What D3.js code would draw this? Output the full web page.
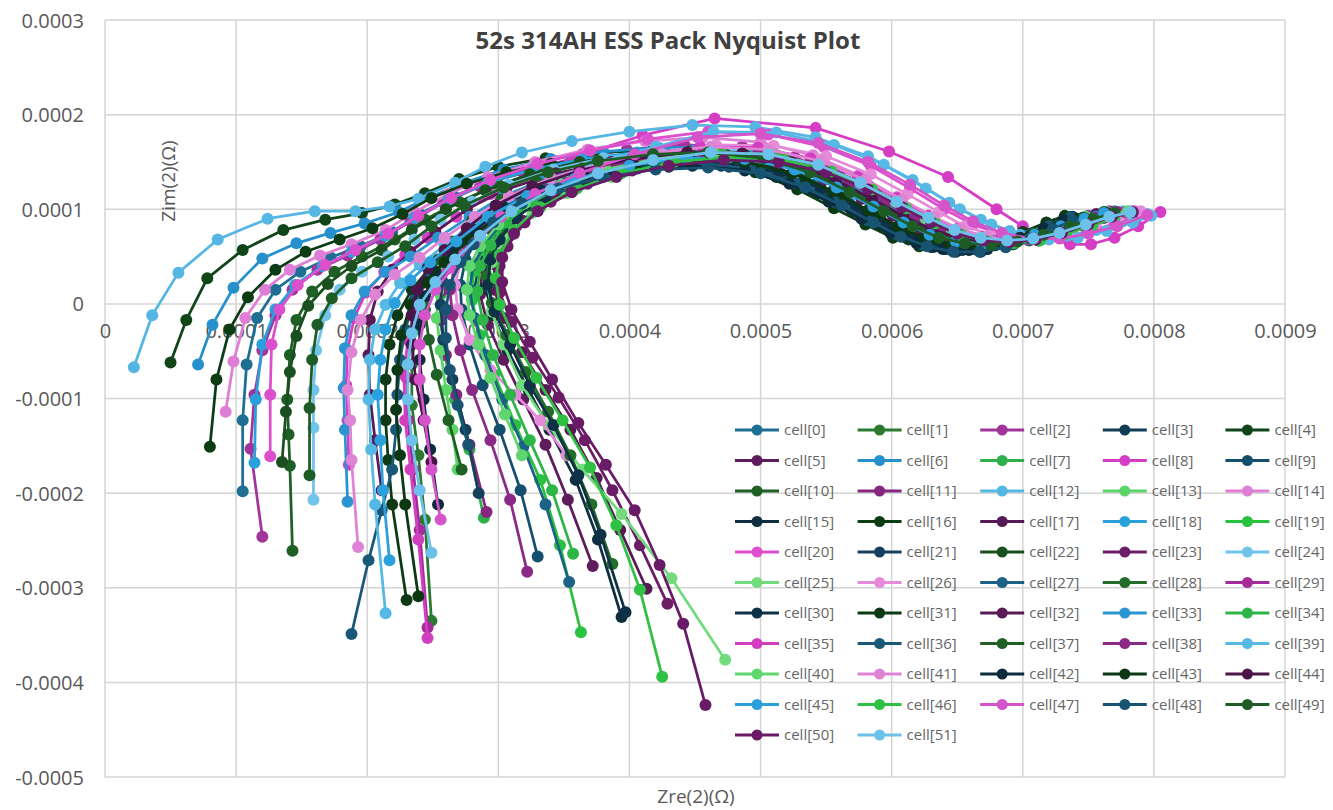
<!DOCTYPE html>
<html>
<head>
<meta charset="utf-8">
<script src="https://cdn.jsdelivr.net/npm/d3@7"></script>
<style>
  body { margin: 0; background: #fff; }
  text { font-family: "Open Sans", "Liberation Sans", sans-serif; }
</style>
</head>
<body>
<script>
// Nyquist points per cell: [Zre, Zim] in micro-ohm (1e-6 ohm), high freq first
var cell0 = [[105,-198],[105,-123],[108,-64],[116,-15],[130,15],[149,34],[172,49],[195,61],[219,76],[240,95],[266,114],[296,130],[330,142],[368,150],[410,154],[452,152],[492,143],[526,126],[555,106],[580,88],[602,73],[622,63],[642,58],[662,59],[682,65],[702,74],[720,84],[736,92]];
var cell1 = [[249,-335],[244,-228],[239,-160],[234,-107],[234,-64],[237,-27],[244,2],[256,27],[269,49],[286,74],[308,99],[336,121],[372,138],[412,151],[454,158],[496,155],[532,142],[562,122],[588,102],[610,85],[630,72],[650,65],[670,62],[690,65],[710,72],[730,81],[748,89],[764,95]];
var cell2 = [[120,-246],[111,-153],[114,-96],[120,-49],[130,-12],[143,15],[162,36],[185,51],[210,68],[233,87],[258,107],[286,124],[318,140],[356,153],[398,163],[442,168],[486,166],[526,155],[560,136],[588,115],[612,96],[632,81],[652,72],[672,68],[692,70],[712,76],[732,85],[750,93],[766,98]];
var cell3 = [[281,12],[286,44],[295,78],[308,100],[330,118],[360,133],[396,143],[436,148],[476,145],[512,134],[543,117],[570,98],[593,81],[613,68],[632,60],[651,57],[670,59],[689,65],[707,74],[724,84],[738,92]];
var cell4 = [[50,-62],[62,-17],[78,27],[105,57],[136,78],[168,89],[196,96],[221,105],[244,117],[270,132],[300,145],[336,154],[376,160],[418,162],[460,160],[500,150],[534,133],[563,112],[588,93],[610,78],[630,67],[650,61],[670,61],[690,66],[710,74],[730,84],[748,92]];
var cell5 = [[372,-277],[353,-207],[336,-149],[319,-101],[304,-59],[292,-22],[286,10],[288,38],[295,61],[308,86],[328,108],[356,128],[390,143],[430,154],[472,159],[514,156],[550,144],[582,125],[608,105],[630,88],[650,75],[670,67],[690,65],[710,68],[730,75],[750,84],[768,92],[784,97]];
var cell6 = [[71,-64],[82,-22],[98,17],[120,48],[146,64],[172,75],[198,85],[224,97],[248,113],[274,128],[304,142],[340,153],[380,161],[422,165],[464,165],[505,157],[540,141],[570,120],[595,100],[616,84],[636,72],[656,66],[676,65],[696,69],[716,76],[736,85],[754,93],[770,98]];
var cell7 = [[289,-226],[278,-154],[267,-101],[259,-54],[256,-17],[256,10],[260,36],[271,59],[288,84],[310,106],[338,126],[372,141],[412,152],[454,157],[496,154],[532,142],[563,123],[589,103],[611,86],[631,73],[651,66],[671,64],[691,67],[711,74],[731,83],[749,91],[764,97]];
var cell8 = [[186,-170],[185,-123],[184,-86],[185,-49],[190,-15],[199,12],[213,34],[229,52],[246,70],[268,92],[294,116],[326,138],[364,158],[410,178],[465,196],[542,186],[598,161],[643,134],[680,100],[700,82],[718,70],[736,63],[752,63],[770,70],[788,82],[805,97]];
var cell9 = [[330,-267],[317,-197],[301,-133],[288,-86],[278,-43],[272,-6],[271,20],[275,47],[284,68],[298,90],[318,110],[346,126],[380,138],[420,146],[460,147],[500,140],[534,124],[562,105],[586,87],[607,72],[627,62],[647,57],[667,58],[687,64],[706,73],[723,83],[738,91]];
var cell10 = [[143,-261],[141,-171],[140,-138],[139,-101],[141,-54],[146,-17],[158,13],[175,34],[196,50],[221,68],[244,89],[270,108],[300,126],[334,141],[372,152],[414,159],[456,161],[498,155],[534,140],[565,120],[591,100],[613,83],[633,71],[653,64],[673,62],[693,66],[713,73],[733,82],[751,90],[766,96]];
var cell11 = [[291,-220],[278,-149],[268,-96],[260,-54],[256,-17],[256,13],[261,38],[271,59],[286,82],[308,104],[336,124],[370,140],[410,152],[452,158],[494,156],[532,145],[564,126],[591,106],[614,89],[634,76],[654,68],[674,65],[694,68],[714,74],[734,83],[752,91],[768,97]];
var cell12 = [[22,-67],[36,-12],[56,33],[86,68],[124,90],[160,98],[191,98],[217,103],[239,111],[267,128],[290,145],[318,160],[356,172],[400,182],[448,189],[496,187],[542,176],[582,156],[616,131],[644,107],[668,89],[690,77],[712,71],[734,72],[756,78],[776,87],[795,95]];
var cell13 = [[269,-175],[265,-133],[260,-91],[256,-49],[253,-15],[254,13],[259,38],[268,59],[282,82],[304,106],[332,126],[366,142],[406,154],[448,160],[490,158],[528,147],[560,128],[587,108],[610,90],[630,77],[650,69],[670,66],[690,68],[710,75],[730,84],[748,92],[764,97]];
var cell14 = [[92,-114],[98,-61],[107,-15],[122,15],[141,36],[164,51],[188,63],[214,78],[236,97],[262,116],[292,134],[328,150],[368,163],[412,172],[456,176],[500,171],[540,157],[575,136],[604,113],[628,93],[650,79],[670,71],[690,68],[710,70],[730,76],[750,84],[768,92],[784,97]];
var cell15 = [[394,-331],[376,-249],[359,-186],[339,-133],[323,-91],[307,-49],[296,-12],[290,17],[292,44],[300,66],[312,90],[332,110],[358,126],[392,138],[430,145],[470,146],[508,138],[541,122],[568,102],[591,84],[611,70],[630,60],[649,55],[668,55],[687,60],[705,69],[722,79],[736,88]];
var cell16 = [[80,-151],[85,-80],[95,-27],[109,7],[130,36],[153,55],[179,68],[204,80],[227,95],[249,112],[276,127],[306,139],[340,148],[378,153],[418,154],[458,150],[496,139],[528,121],[556,101],[580,84],[601,70],[621,61],[641,58],[661,60],[681,67],[700,76],[718,86],[732,93]];
var cell17 = [[413,-301],[393,-239],[375,-184],[355,-133],[336,-91],[318,-51],[304,-15],[297,15],[297,42],[305,63],[318,88],[338,110],[366,128],[400,142],[440,152],[482,156],[522,151],[556,138],[586,119],[611,99],[632,83],[652,71],[672,65],[692,64],[712,67],[732,74],[752,83],[770,91],[786,97]];
var cell18 = [[114,-168],[115,-101],[120,-43],[130,-6],[145,20],[166,40],[188,55],[214,72],[236,91],[262,110],[292,128],[326,142],[364,153],[406,160],[448,162],[490,157],[526,143],[558,123],[585,102],[608,85],[628,72],[648,65],[668,63],[688,67],[708,74],[728,83],[746,91],[762,97]];
var cell19 = [[363,-347],[347,-255],[332,-186],[313,-128],[297,-75],[286,-33],[280,4],[281,34],[288,57],[302,82],[322,106],[350,126],[384,142],[424,154],[466,160],[508,158],[546,146],[578,127],[605,106],[628,89],[648,76],[668,69],[688,67],[708,70],[728,77],[748,86],[766,94]];
var cell20 = [[126,-161],[126,-96],[127,-43],[133,-6],[147,20],[168,41],[191,57],[216,74],[239,93],[264,112],[294,131],[330,148],[370,162],[414,174],[460,182],[506,179],[548,166],[584,146],[614,122],[640,100],[662,84],[684,73],[706,68],[728,70],[750,76],[770,85],[788,93]];
var cell21 = [[285,-200],[275,-133],[265,-80],[258,-38],[256,-1],[257,25],[263,49],[276,72],[296,98],[324,118],[358,134],[398,145],[440,150],[482,147],[518,135],[549,116],[575,96],[598,80],[618,68],[638,61],[658,59],[678,62],[698,70],[716,79],[732,88]];
var cell22 = [[135,-167],[138,-114],[141,-72],[146,-34],[155,-2],[170,21],[188,40],[211,57],[234,78],[260,100],[290,120],[324,137],[362,150],[404,158],[446,161],[488,157],[526,144],[558,124],[585,104],[608,87],[628,74],[648,66],[668,63],[688,66],[708,72],[728,81],[746,89],[762,95]];
var cell23 = [[429,-317],[408,-255],[387,-197],[366,-144],[346,-99],[326,-57],[310,-19],[301,12],[301,40],[307,61],[320,86],[340,108],[368,127],[402,141],[442,151],[484,155],[524,150],[558,137],[588,118],[612,99],[634,83],[654,72],[674,66],[694,65],[714,68],[734,75],[754,84],[772,92],[788,97]];
var cell24 = [[159,-207],[159,-131],[159,-91],[161,-49],[168,-12],[179,15],[196,34],[216,50],[236,68],[256,89],[280,108],[308,126],[342,142],[380,154],[422,162],[464,165],[506,160],[542,146],[574,126],[600,106],[622,89],[642,76],[662,68],[682,65],[702,68],[722,75],[742,84],[760,92],[776,98]];
var cell25 = [[473,-376],[432,-290],[394,-222],[364,-175],[338,-128],[318,-86],[304,-43],[295,-8],[292,20],[295,44],[306,70],[326,96],[352,117],[386,134],[426,147],[468,154],[510,153],[548,142],[580,124],[606,104],[628,87],[648,75],[668,68],[688,66],[708,69],[728,76],[748,85],[766,93],[782,98]];
var cell26 = [[352,-160],[332,-123],[313,-96],[294,-70],[278,-38],[269,-6],[267,20],[271,44],[280,63],[294,86],[316,108],[344,128],[380,146],[422,160],[466,168],[510,167],[550,156],[584,137],[612,116],[636,97],[656,82],[676,73],[696,69],[716,70],[736,76],[756,85],[774,93],[790,98]];
var cell27 = [[354,-294],[336,-212],[319,-151],[303,-101],[290,-54],[282,-15],[278,15],[281,41],[290,64],[304,88],[324,110],[352,128],[386,141],[426,149],[466,150],[506,142],[540,126],[568,106],[592,88],[613,73],[633,63],[653,58],[673,58],[693,63],[712,72],[730,82],[746,91]];
var cell28 = [[387,-275],[371,-212],[355,-160],[338,-114],[321,-72],[306,-33],[295,1],[291,29],[294,55],[304,80],[324,104],[352,124],[386,140],[426,151],[468,156],[510,153],[546,141],[577,122],[603,102],[625,85],[645,73],[665,66],[685,64],[705,67],[725,74],[745,83],[762,91]];
var cell29 = [[246,-342],[240,-239],[235,-175],[231,-123],[230,-78],[233,-41],[239,-8],[250,18],[265,42],[284,68],[306,94],[334,117],[370,136],[412,151],[456,160],[500,159],[538,148],[572,129],[600,108],[624,90],[644,77],[664,69],[684,66],[704,68],[724,74],[744,83],[762,91],[778,97]];
var cell30 = [[397,-326],[378,-244],[361,-181],[342,-128],[324,-86],[309,-43],[297,-8],[292,20],[294,47],[301,68],[314,92],[336,113],[364,129],[398,141],[436,148],[476,148],[514,139],[546,122],[573,102],[596,84],[616,70],[635,61],[654,57],[673,58],[692,63],[710,72],[727,82],[741,90]];
var cell31 = [[230,-313],[219,-212],[216,-165],[214,-123],[214,-80],[217,-43],[223,-12],[234,15],[248,38],[265,59],[286,84],[310,108],[342,128],[378,142],[418,151],[460,154],[500,148],[534,133],[563,113],[588,94],[610,78],[630,67],[650,61],[670,60],[690,64],[710,72],[728,82],[744,90]];
var cell32 = [[211,-197],[206,-144],[202,-96],[201,-54],[202,-17],[208,13],[219,36],[233,55],[252,76],[276,100],[306,121],[344,138],[386,150],[430,157],[474,157],[514,148],[548,131],[577,111],[601,93],[622,79],[642,70],[662,66],[682,67],[702,72],[722,80],[740,88],[756,95]];
var cell33 = [[185,-209],[183,-133],[182,-89],[183,-47],[188,-12],[198,13],[214,34],[233,50],[254,70],[278,92],[304,114],[336,132],[372,146],[412,156],[454,161],[496,158],[534,146],[566,127],[594,107],[618,90],[638,77],[658,69],[678,66],[698,69],[718,75],[738,84],[756,92],[772,97]];
var cell34 = [[357,-264],[341,-197],[324,-144],[309,-96],[296,-54],[288,-17],[284,13],[286,40],[294,62],[306,86],[326,108],[354,128],[388,144],[428,155],[470,160],[512,157],[548,145],[580,126],[606,106],[628,89],[648,76],[668,68],[688,66],[708,69],[728,76],[748,85],[765,93]];
var cell35 = [[246,-353],[239,-249],[233,-175],[229,-123],[228,-75],[231,-38],[237,-6],[248,20],[263,44],[282,70],[304,96],[332,120],[368,140],[410,156],[454,166],[498,165],[538,154],[574,134],[604,112],[628,93],[650,79],[670,71],[690,68],[710,70],[730,76],[750,85],[768,93],[784,98]];
var cell36 = [[188,-349],[201,-271],[211,-218],[219,-175],[222,-133],[223,-96],[225,-59],[229,-27],[236,4],[248,27],[263,52],[282,78],[306,102],[336,121],[372,136],[412,146],[452,149],[492,143],[526,128],[556,108],[581,89],[603,74],[623,63],[643,58],[663,58],[683,63],[702,72],[720,82],[736,91]];
var cell37 = [[272,-175],[262,-123],[253,-75],[247,-38],[244,-6],[247,22],[254,47],[265,66],[280,88],[302,110],[330,128],[364,143],[404,154],[446,160],[488,158],[526,147],[558,128],[585,108],[608,90],[628,77],[648,69],[668,66],[688,68],[708,74],[728,83],[746,91],[762,97]];
var cell38 = [[322,-283],[309,-207],[294,-144],[280,-91],[271,-49],[265,-12],[263,15],[267,41],[277,62],[292,84],[312,106],[340,126],[374,142],[414,154],[456,160],[498,158],[536,147],[568,128],[595,108],[618,90],[638,77],[658,69],[678,66],[698,68],[718,74],[738,83],[756,91],[772,97]];
var cell39 = [[214,-327],[206,-212],[203,-154],[201,-101],[202,-59],[206,-27],[214,-1],[225,22],[240,41],[259,62],[282,86],[308,110],[340,132],[378,150],[420,166],[464,182],[512,181],[556,168],[594,147],[626,122],[652,100],[676,84],[698,73],[720,68],[742,70],[764,77],[784,86],[798,93]];
var cell40 = [[318,-160],[305,-117],[294,-78],[285,-43],[278,-12],[276,15],[278,40],[286,61],[300,84],[320,106],[348,126],[382,142],[422,154],[464,160],[506,158],[544,147],[576,128],[603,108],[626,90],[646,77],[666,69],[686,66],[706,69],[726,76],[746,85],[764,93],[780,98]];
var cell41 = [[193,-257],[188,-165],[187,-123],[185,-91],[188,-51],[195,-17],[206,10],[221,31],[240,49],[259,70],[282,92],[308,114],[340,133],[378,148],[420,160],[462,166],[506,163],[546,151],[580,131],[608,110],[632,92],[652,79],[672,71],[692,68],[712,70],[732,76],[752,85],[770,93],[786,98]];
var cell42 = [[254,-212],[248,-154],[243,-101],[240,-59],[240,-22],[244,8],[252,34],[265,55],[282,78],[304,102],[332,120],[366,134],[406,143],[448,146],[488,141],[522,127],[552,108],[577,90],[599,75],[619,64],[639,58],[659,57],[679,62],[698,70],[716,80],[731,89]];
var cell43 = [[239,-309],[229,-212],[225,-160],[222,-112],[223,-70],[226,-33],[233,-1],[244,23],[259,44],[278,68],[300,94],[328,116],[364,134],[404,146],[446,152],[488,150],[524,138],[555,119],[582,99],[605,82],[625,70],[645,63],[665,61],[685,64],[705,71],[724,80],[740,88]];
var cell44 = [[249,-167],[243,-123],[237,-80],[234,-43],[234,-12],[238,15],[246,38],[259,57],[276,80],[298,104],[326,124],[362,141],[402,153],[444,160],[486,159],[524,149],[557,131],[585,111],[609,93],[630,79],[650,70],[670,66],[690,67],[710,73],[730,82],[748,90],[764,96]];
var cell45 = [[217,-271],[212,-197],[210,-144],[208,-96],[210,-59],[214,-27],[221,1],[233,25],[248,44],[268,66],[292,92],[322,114],[358,132],[400,146],[444,154],[488,153],[526,142],[558,123],[586,103],[609,86],[629,73],[649,66],[669,63],[689,66],[709,73],[729,82],[747,90],[762,96]];
var cell46 = [[425,-394],[408,-302],[390,-234],[370,-173],[349,-123],[329,-78],[312,-36],[301,-1],[298,27],[301,52],[312,78],[332,102],[360,122],[394,138],[434,150],[476,155],[518,152],[554,140],[585,121],[611,101],[633,85],[653,73],[673,66],[693,64],[713,67],[733,74],[753,83],[770,91]];
var cell47 = [[256,-228],[249,-175],[244,-123],[240,-80],[240,-43],[244,-12],[252,15],[265,38],[282,64],[302,92],[328,116],[362,138],[404,158],[452,176],[500,180],[544,170],[582,150],[614,126],[640,104],[662,87],[684,75],[706,69],[728,69],[750,74],[772,82],[795,94]];
var cell48 = [[277,-149],[269,-107],[263,-70],[260,-36],[260,-6],[263,20],[271,44],[281,63],[296,86],[318,106],[346,122],[380,134],[420,142],[460,144],[500,138],[534,123],[562,104],[586,86],[607,71],[627,61],[647,55],[667,55],[687,60],[706,69],[723,79],[738,88]];
var cell49 = [[156,-181],[156,-110],[158,-59],[162,-22],[173,6],[188,27],[208,44],[229,61],[249,82],[274,104],[304,123],[338,139],[376,151],[418,158],[460,160],[502,154],[538,139],[568,118],[594,98],[616,82],[636,70],[656,64],[676,62],[696,66],[716,73],[736,82],[754,90],[770,96]];
var cell50 = [[458,-424],[441,-338],[423,-276],[404,-218],[382,-170],[361,-126],[341,-80],[324,-40],[310,-6],[303,23],[303,49],[312,74],[330,98],[356,118],[390,134],[430,146],[472,152],[514,150],[550,139],[582,121],[608,102],[630,86],[650,74],[670,67],[690,65],[710,68],[730,75],[750,84],[768,92],[784,97]];
var cell51 = [[249,-263],[240,-197],[234,-144],[231,-101],[231,-64],[234,-31],[240,-1],[252,23],[267,47],[286,72],[310,98],[340,120],[376,138],[418,152],[462,160],[506,158],[544,147],[576,128],[604,108],[628,91],[648,78],[668,70],[688,67],[708,69],[728,75],[748,84],[766,92],[782,97]];

var cells = [cell0, cell1, cell2, cell3, cell4, cell5, cell6, cell7, cell8, cell9,
  cell10, cell11, cell12, cell13, cell14, cell15, cell16, cell17, cell18, cell19,
  cell20, cell21, cell22, cell23, cell24, cell25, cell26, cell27, cell28, cell29,
  cell30, cell31, cell32, cell33, cell34, cell35, cell36, cell37, cell38, cell39,
  cell40, cell41, cell42, cell43, cell44, cell45, cell46, cell47, cell48, cell49,
  cell50, cell51];

var cellNames = cells.map(function(d, i) { return "cell[" + i + "]"; });

var xTicks = [0, 0.0001, 0.0002, 0.0003, 0.0004, 0.0005, 0.0006, 0.0007, 0.0008, 0.0009];
var yTicks = [-0.0005, -0.0004, -0.0003, -0.0002, -0.0001, 0, 0.0001, 0.0002, 0.0003];

var colors = ["#1f6e93","#2b7a30","#a1359b","#123d56","#0f4519","#5e1c5c","#2690cc","#2fb04a","#d43dc4","#154f6e",
  "#1e5f24","#85267f","#55b6e3","#5cd468","#df7ed6","#0f2e42","#0b3c13","#561a54","#2aa0da","#29c140",
  "#dc4fcd","#14405c","#1a4f1f","#6b1d66","#70c3ea","#72dc7d","#e58bd9","#1b6286","#236c2a","#a32c9a",
  "#0f3147","#0d3a15","#5a1a58","#2a95d0","#2eb548","#d13fc0","#1a5878","#1f6026","#8b2a86","#55b8e5",
  "#60d66e","#de84d5","#0c2b3c","#0c3713","#4b1549","#2ba0dc","#2fc044","#d554c9","#185372","#1e5c25",
  "#6a1b67","#6cc1ea"];

var svgWidth = 1333;
var svgHeight = 810;

var svg = d3.select("body")
  .append("svg")
  .attr("width", svgWidth)
  .attr("height", svgHeight);

// scales
var xScale = d3.scaleLinear()
  .domain([0, 0.0009])
  .range([105, 1285]);

var yScale = d3.scaleLinear()
  .domain([-0.0005, 0.0003])
  .range([777, 20]);

var fmt = function(d) { return d === 0 ? "0" : d.toFixed(4); };

// gridlines
var grid = svg.append("g").attr("class", "grid");
grid.selectAll("line.v")
  .data(xTicks)
  .enter().append("line")
  .attr("class", "v")
  .attr("x1", function(d) { return xScale(d); })
  .attr("x2", function(d) { return xScale(d); })
  .attr("y1", yScale(0.0003))
  .attr("y2", yScale(-0.0005))
  .attr("stroke", "#d4d4d4")
  .attr("stroke-width", 1.5);

grid.selectAll("line.h")
  .data(yTicks)
  .enter().append("line")
  .attr("class", "h")
  .attr("x1", xScale(0))
  .attr("x2", xScale(0.0009))
  .attr("y1", function(d) { return yScale(d); })
  .attr("y2", function(d) { return yScale(d); })
  .attr("stroke", "#d4d4d4")
  .attr("stroke-width", 1.5);

// axes (labels only, axis crosses at zero)
var xAxis = d3.axisBottom(xScale).tickValues(xTicks).tickSize(0).tickPadding(20).tickFormat(fmt);
var yAxis = d3.axisLeft(yScale).tickValues(yTicks).tickSize(0).tickPadding(21).tickFormat(fmt);

var gX = svg.append("g")
  .attr("transform", "translate(0," + yScale(0) + ")")
  .call(xAxis);
var gY = svg.append("g")
  .attr("transform", "translate(" + xScale(0) + ",0)")
  .call(yAxis);

[gX, gY].forEach(function(g) {
  g.select(".domain").remove();
  g.selectAll("text")
    .attr("fill", "#595959")
    .style("font-size", "20px")
    .style("font-family", "\"Open Sans\", sans-serif");
});
gY.selectAll("text").attr("dy", "0.35em");

// series
var line = d3.line()
  .x(function(d) { return xScale(d[0] * 1e-6); })
  .y(function(d) { return yScale(d[1] * 1e-6); });

var plot = svg.append("g").attr("class", "series");

cells.forEach(function(pts, i) {
  var g = plot.append("g");
  g.append("path")
    .attr("d", line(pts))
    .attr("fill", "none")
    .attr("stroke", colors[i])
    .attr("stroke-width", 2.75)
    .attr("stroke-linejoin", "round");
  g.selectAll("circle")
    .data(pts)
    .enter().append("circle")
    .attr("cx", function(d) { return xScale(d[0] * 1e-6); })
    .attr("cy", function(d) { return yScale(d[1] * 1e-6); })
    .attr("r", 6)
    .attr("fill", colors[i]);
});

// title
svg.append("text")
  .attr("x", 668)
  .attr("y", 49)
  .attr("text-anchor", "middle")
  .attr("fill", "#404040")
  .style("font-size", "24px")
  .style("font-weight", "bold")
  .text("52s 314AH ESS Pack Nyquist Plot");

// axis titles
svg.append("text")
  .attr("transform", "translate(175,181) rotate(-90)")
  .attr("text-anchor", "middle")
  .attr("fill", "#595959")
  .style("font-size", "19px")
  .text("Zim(2)(\u03A9)");

svg.append("text")
  .attr("x", 696)
  .attr("y", 803)
  .attr("text-anchor", "middle")
  .attr("fill", "#595959")
  .style("font-size", "19px")
  .text("Zre(2)(\u03A9)");

// legend: 5 columns, row-major
var legend = svg.append("g").attr("class", "legend");
var item = legend.selectAll("g")
  .data(cellNames)
  .enter().append("g")
  .attr("transform", function(d, i) {
    return "translate(" + (735 + (i % 5) * 122.6) + "," + (430 + Math.floor(i / 5) * 30.5) + ")";
  });
item.append("line")
  .attr("x1", 0).attr("x2", 44)
  .attr("stroke", function(d, i) { return colors[i]; })
  .attr("stroke-width", 3);
item.append("circle")
  .attr("cx", 22).attr("r", 5.5)
  .attr("fill", function(d, i) { return colors[i]; });
item.append("text")
  .attr("x", 49)
  .attr("dy", "0.35em")
  .attr("fill", "#666666")
  .style("font-size", "15px")
  .text(function(d) { return d; });
</script>
</body>
</html>
